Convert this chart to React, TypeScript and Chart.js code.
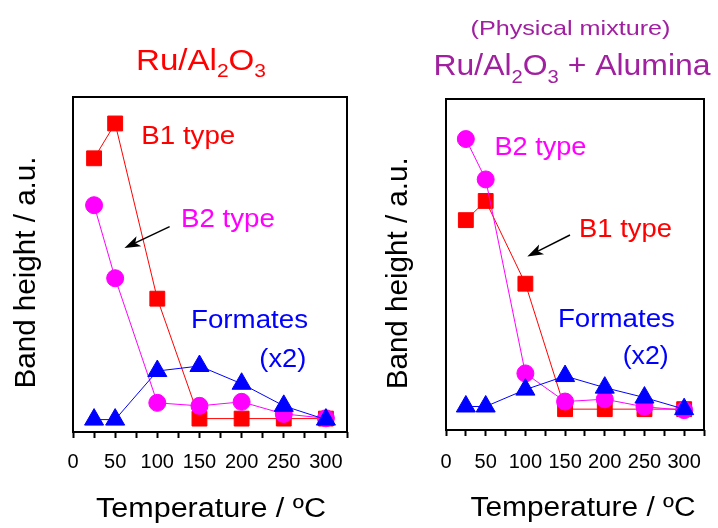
import React, { useEffect, useRef } from 'react';
import { Chart, registerables } from 'chart.js';

Chart.register(...registerables);

// ---------- data ----------
const temperatures = [25, 50, 100, 150, 200, 250, 300];
const xTickLabelValues = [0, 50, 100, 150, 200, 250, 300];

// Ru/Al2O3 panel
const leftB1 = [81.7, 92.1, 39.8, 4.0, 4.0, 4.0, 4.0];
const leftB2 = [67.7, 45.9, 8.7, 7.8, 9.0, 5.4, 4.1];
const leftFormates = [3.7, 3.7, 18.2, 19.7, 14.4, 7.8, 3.7];

// Ru/Al2O3 + Alumina panel
const rightB1 = [63.4, 69.2, 44.2, 6.3, 6.3, 6.3, 6.3];
const rightB2 = [87.9, 75.7, 17.1, 8.6, 9.3, 7.0, 6.0];
const rightFormates = [7.1, 7.1, 12.2, 16.3, 12.8, 9.8, 6.3];

const RED = '#ff0000';
const MAGENTA = '#ff00ff';
const BLUE = '#0000ff';
const PURPLE = '#a020a0';
const FAMILY = '"Liberation Sans", Arial, Helvetica, sans-serif';
const font = (s: number) => `${s}px ${FAMILY}`;

type Seg = { t: string; sub?: boolean };

function drawText(ctx: CanvasRenderingContext2D, text: string, x: number, y: number, size: number, color: string, target?: number, align: 'left' | 'center' = 'left') {
  ctx.save();
  ctx.font = font(size);
  ctx.fillStyle = color;
  ctx.textBaseline = 'alphabetic';
  ctx.textAlign = 'left';
  const w = ctx.measureText(text).width;
  const sx = target ? target / w : 1;
  const x0 = align === 'center' ? x - (w * sx) / 2 : x;
  ctx.translate(x0, y);
  ctx.scale(sx, 1);
  ctx.fillText(text, 0, 0);
  ctx.restore();
}

function drawRich(ctx: CanvasRenderingContext2D, segs: Seg[], cx: number, y: number, size: number, subSize: number, subShift: number, color: string, target: number) {
  ctx.save();
  ctx.fillStyle = color;
  ctx.textBaseline = 'alphabetic';
  ctx.textAlign = 'left';
  const widths = segs.map((s) => {
    ctx.font = font(s.sub ? subSize : size);
    return ctx.measureText(s.t).width;
  });
  const total = widths.reduce((a, b) => a + b, 0);
  const sx = target / total;
  ctx.translate(cx - target / 2, y);
  ctx.scale(sx, 1);
  let x = 0;
  segs.forEach((s, i) => {
    ctx.font = font(s.sub ? subSize : size);
    ctx.fillText(s.t, x, s.sub ? subShift : 0);
    x += widths[i];
  });
  ctx.restore();
}

function drawVertical(ctx: CanvasRenderingContext2D, text: string, bx: number, cy: number, size: number, target: number) {
  ctx.save();
  ctx.font = font(size);
  ctx.fillStyle = '#000';
  ctx.textBaseline = 'alphabetic';
  ctx.textAlign = 'left';
  const w = ctx.measureText(text).width;
  const sx = target / w;
  ctx.translate(bx, cy);
  ctx.rotate(-Math.PI / 2);
  ctx.scale(sx, 1);
  ctx.fillText(text, -w / 2, 0);
  ctx.restore();
}

function drawArrow(ctx: CanvasRenderingContext2D, x1: number, y1: number, x2: number, y2: number) {
  const dx = x2 - x1, dy = y2 - y1;
  const len = Math.hypot(dx, dy);
  const ux = dx / len, uy = dy / len;
  const px = -uy, py = ux;
  const head = 16, half = 5.5, notch = 12;
  ctx.save();
  ctx.strokeStyle = '#000';
  ctx.fillStyle = '#000';
  ctx.lineWidth = 1.5;
  ctx.beginPath();
  ctx.moveTo(x1, y1);
  ctx.lineTo(x2 - ux * notch, y2 - uy * notch);
  ctx.stroke();
  ctx.beginPath();
  ctx.moveTo(x2, y2);
  ctx.lineTo(x2 - ux * head + px * half, y2 - uy * head + py * half);
  ctx.lineTo(x2 - ux * notch, y2 - uy * notch);
  ctx.lineTo(x2 - ux * head - px * half, y2 - uy * head - py * half);
  ctx.closePath();
  ctx.fill();
  ctx.restore();
}

type Label = { text: string; color: string; x: number; y: number; width: number };
type PanelCfg = {
  b1: number[];
  b2: number[];
  formates: number[];
  padTop: number;
  padRight: number;
  yWidth: number;
  xHeight: number;
  tickPad: number;
  labels: Label[];
  arrow: [number, number, number, number];
  drawTitles: (ctx: CanvasRenderingContext2D) => void;
  xTitle: { cx: number; y: number; w: number };
  yTitle: { bx: number; cy: number; w: number };
};

function makeChart(canvas: HTMLCanvasElement, cfg: PanelCfg) {
  const pts = (vals: number[]) => temperatures.map((t, i) => ({ x: t, y: vals[i] }));
  const overlay = {
    id: 'overlay',
    afterDraw(chart: any) {
      const ctx = chart.ctx as CanvasRenderingContext2D;
      const { left, top, right, bottom } = chart.chartArea;
      ctx.save();
      ctx.strokeStyle = '#000';
      ctx.lineWidth = 2;
      ctx.strokeRect(left, top, right - left, bottom - top);
      ctx.restore();
      const xs = chart.scales.x, ys = chart.scales.y;
      cfg.labels.forEach((l) => {
        drawText(ctx, l.text, xs.getPixelForValue(l.x), ys.getPixelForValue(l.y), 25, l.color, l.width);
      });
      const [ax1, ay1, ax2, ay2] = cfg.arrow;
      drawArrow(ctx, xs.getPixelForValue(ax1), ys.getPixelForValue(ay1), xs.getPixelForValue(ax2), ys.getPixelForValue(ay2));
      cfg.drawTitles(ctx);
      drawText(ctx, 'Temperature / ºC', cfg.xTitle.cx, cfg.xTitle.y, 27, '#000', cfg.xTitle.w, 'center');
      drawVertical(ctx, 'Band height / a.u.', cfg.yTitle.bx, cfg.yTitle.cy, 29, cfg.yTitle.w);
    },
  };

  return new Chart(canvas, {
    type: 'line',
    data: {
      datasets: [
        {
          label: 'Formates (x2)',
          data: pts(cfg.formates),
          borderColor: BLUE,
          backgroundColor: BLUE,
          borderWidth: 1,
          pointStyle: 'triangle',
          pointRadius: 11,
          pointBorderWidth: 1,
          order: 0,
          clip: false,
        },
        {
          label: 'B2 type',
          data: pts(cfg.b2),
          borderColor: MAGENTA,
          backgroundColor: MAGENTA,
          borderWidth: 1,
          pointStyle: 'circle',
          pointRadius: 8.5,
          pointBorderWidth: 1,
          order: 1,
          clip: false,
        },
        {
          label: 'B1 type',
          data: pts(cfg.b1),
          borderColor: RED,
          backgroundColor: RED,
          borderWidth: 1,
          pointStyle: 'rect',
          pointRadius: 10.5,
          pointBorderWidth: 1,
          order: 2,
          clip: false,
        },
      ] as any,
    },
    options: {
      animation: false,
      responsive: false,
      devicePixelRatio: 1,
      events: [],
      layout: { padding: { top: cfg.padTop, right: cfg.padRight, left: 0, bottom: 0 } },
      plugins: { legend: { display: false }, tooltip: { enabled: false }, title: { display: false } },
      elements: { line: { tension: 0, fill: false } },
      scales: {
        x: {
          type: 'linear',
          min: 0,
          max: 325,
          afterFit: (s: any) => { s.height = cfg.xHeight; },
          ticks: {
            stepSize: 25,
            autoSkip: false,
            maxRotation: 0,
            padding: cfg.tickPad,
            color: '#000',
            font: { family: FAMILY, size: 20 },
            callback: (v: any) => (xTickLabelValues.includes(Number(v)) ? String(v) : ''),
          },
          grid: { display: true, drawOnChartArea: false, drawTicks: true, tickLength: 6, tickColor: '#000', tickWidth: 2 },
          border: { display: false },
          title: { display: false },
        },
        y: {
          type: 'linear',
          min: 0,
          max: 100,
          afterFit: (s: any) => { s.width = cfg.yWidth; },
          ticks: { display: false },
          grid: { display: false },
          border: { display: false },
          title: { display: false },
        },
      },
    } as any,
    plugins: [overlay],
  });
}

const sub2: Seg[] = [{ t: 'Ru/Al' }, { t: '2', sub: true }, { t: 'O' }, { t: '3', sub: true }];

const leftCfg: PanelCfg = {
  b1: leftB1,
  b2: leftB2,
  formates: leftFormates,
  padTop: 97,
  padRight: 9,
  yWidth: 73,
  xHeight: 96,
  tickPad: 12,
  labels: [
    { text: 'B1 type', color: RED, x: 81, y: 86.0, width: 94 },
    { text: 'B2 type', color: MAGENTA, x: 128, y: 61.2, width: 94 },
    { text: 'Formates', color: BLUE, x: 140, y: 31.0, width: 117 },
    { text: '(x2)', color: BLUE, x: 221, y: 19.4, width: 47 },
  ],
  arrow: [114.6, 61.3, 61.0, 54.9],
  drawTitles: (ctx) => {
    drawRich(ctx, sub2, 201, 70, 30, 19, 7, RED, 130);
  },
  xTitle: { cx: 211, y: 517, w: 230 },
  yTitle: { bx: 34.5, cy: 272.5, w: 232 },
};

const rightCfg: PanelCfg = {
  b1: rightB1,
  b2: rightB2,
  formates: rightFormates,
  padTop: 99,
  padRight: 0,
  yWidth: 87,
  xHeight: 98,
  tickPad: 14,
  labels: [
    { text: 'B2 type', color: MAGENTA, x: 61, y: 83.1, width: 92 },
    { text: 'B1 type', color: RED, x: 167.5, y: 58.4, width: 93 },
    { text: 'Formates', color: BLUE, x: 141, y: 31.1, width: 117 },
    { text: '(x2)', color: BLUE, x: 222.5, y: 19.9, width: 46 },
  ],
  arrow: [156.2, 58.9, 102.4, 52.4],
  drawTitles: (ctx) => {
    drawText(ctx, '(Physical mixture)', 211.5, 35, 21, PURPLE, 200, 'center');
    drawRich(ctx, [...sub2, { t: ' + Alumina' }], 213, 75, 30, 19, 7.5, PURPLE, 277);
  },
  xTitle: { cx: 224, y: 516, w: 225 },
  yTitle: { bx: 47.5, cy: 273.3, w: 232 },
};

export default function App() {
  const leftRef = useRef<HTMLCanvasElement>(null);
  const rightRef = useRef<HTMLCanvasElement>(null);

  useEffect(() => {
    const charts: Chart[] = [];
    if (leftRef.current) charts.push(makeChart(leftRef.current, leftCfg));
    if (rightRef.current) charts.push(makeChart(rightRef.current, rightCfg));
    return () => charts.forEach((c) => c.destroy());
  }, []);

  return (
    <div style={{ position: 'fixed', left: 0, top: 0, width: 718, height: 528, background: '#fff', overflow: 'hidden' }}>
      <canvas ref={leftRef} width={359} height={528} style={{ position: 'absolute', left: 0, top: 0, width: 359, height: 528 }} />
      <canvas ref={rightRef} width={359} height={528} style={{ position: 'absolute', left: 359, top: 0, width: 359, height: 528 }} />
    </div>
  );
}
